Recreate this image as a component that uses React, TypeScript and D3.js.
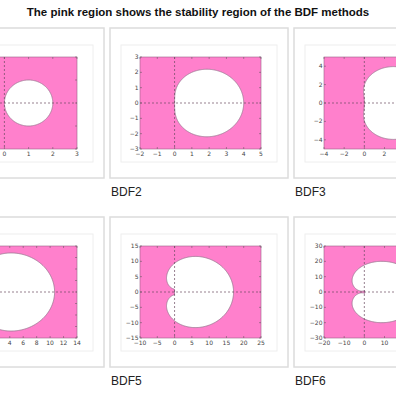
import React from "react";
import * as d3 from "d3";

// method names and the rho-polynomial coefficients of each BDF method (beta = 1)
const methods = ["BDF1", "BDF2", "BDF3", "BDF4", "BDF5", "BDF6"];
const rhoCoeffs = [
  [1, -1],
  [3 / 2, -2, 1 / 2],
  [11 / 6, -3, 3 / 2, -1 / 3],
  [25 / 12, -4, 3, -4 / 3, 1 / 4],
  [137 / 60, -5, 5, -10 / 3, 5 / 4, -1 / 5],
  [147 / 60, -6, 15 / 2, -20 / 3, 15 / 4, -6 / 5, 1 / 6],
];

const xDomains = [[-2, 3], [-2, 5], [-4, 8], [-4, 14], [-10, 25], [-20, 40]];
const yDomains = [[-2, 2], [-3, 3], [-5, 5], [-8, 8], [-15, 15], [-30, 30]];
const xTicks = [
  [-2, -1, 0, 1, 2, 3],
  [-2, -1, 0, 1, 2, 3, 4, 5],
  [-4, -2, 0, 2, 4, 6, 8],
  [-4, -2, 0, 2, 4, 6, 8, 10, 12, 14],
  [-10, -5, 0, 5, 10, 15, 20, 25],
  [-20, -10, 0, 10, 20, 30, 40],
];
const yTicks = [
  [-2, -1, 0, 1, 2],
  [-3, -2, -1, 0, 1, 2, 3],
  [-4, -2, 0, 2, 4],
  [-8, -6, -4, -2, 0, 2, 4, 6, 8],
  [-15, -10, -5, 0, 5, 10, 15],
  [-30, -20, -10, 0, 10, 20, 30],
];

const title = "The pink region shows the stability region of the BDF methods";

const PINK = "#ff80cc";
const FRAME_W = 178;
const FRAME_H = 150;
const AX_W = 121;
const AX_H = 92;

const fmt = (v: number) => (v < 0 ? "\u2212" + Math.abs(v) : String(v));

// boundary locus z(theta) = rho(e^{i theta}) / e^{i k theta}
function boundary(coeffs: number[]) {
  const thetas = d3.range(0, 721).map((i) => (i * 2 * Math.PI) / 720);
  return thetas.map((t) => {
    let re = 0;
    let im = 0;
    coeffs.forEach((a, m) => {
      re += a * Math.cos(-m * t);
      im += a * Math.sin(-m * t);
    });
    return [re, im] as [number, number];
  });
}

function Panel({ i }: { i: number }) {
  const col = i % 3;
  const row = Math.floor(i / 3);
  const fx = 110 + (col - 1) * 184;
  const fy = 28 + row * 189;
  const ax = fx + 30;
  const ay = fy + 29;

  const x = d3.scaleLinear().domain(xDomains[i]).range([0, AX_W]);
  const y = d3.scaleLinear().domain(yDomains[i]).range([AX_H, 0]);
  const line = d3
    .line<[number, number]>()
    .x((d) => x(d[0]))
    .y((d) => y(d[1]));
  const pts = boundary(rhoCoeffs[i]);
  const clipId = `clip-${i}`;

  return (
    <g>
      <rect x={fx} y={fy} width={FRAME_W} height={FRAME_H} fill="#fff" stroke="#dcdcdc" strokeWidth={1.5} />
      <rect x={fx + 11} y={fy + 17} width={156} height={117} fill="#fff" stroke="#eeeeee" strokeWidth={1} />
      <text x={fx + 1} y={fy + 168} fontSize={12} fill="#222" fontFamily="Liberation Sans, Arial, sans-serif">
        {methods[i]}
      </text>
      <g transform={`translate(${ax},${ay})`}>
        <clipPath id={clipId}>
          <rect width={AX_W} height={AX_H} />
        </clipPath>
        <rect width={AX_W} height={AX_H} fill={PINK} />
        <g clipPath={`url(#${clipId})`}>
          <path d={line(pts) + "Z"} fill="#fff" fillRule="evenodd" stroke="#a27a96" strokeWidth={0.9} />
          <line x1={x(0)} x2={x(0)} y1={0} y2={AX_H} stroke="#6a4a60" strokeWidth={0.7} strokeDasharray="2,2" />
          <line x1={0} x2={AX_W} y1={y(0)} y2={y(0)} stroke="#6a4a60" strokeWidth={0.7} strokeDasharray="2,2" />
        </g>
        <rect width={AX_W} height={AX_H} fill="none" stroke="#9b6088" strokeWidth={0.6} />
        {xTicks[i].map((t) => (
          <g key={"x" + t}>
            <line x1={x(t)} x2={x(t)} y1={AX_H} y2={AX_H - 2} stroke="#555" strokeWidth={0.5} />
            <line x1={x(t)} x2={x(t)} y1={0} y2={2} stroke="#555" strokeWidth={0.5} />
            <text x={x(t)} y={AX_H + 7} fontSize={6} fill="#444" textAnchor="middle" fontFamily="DejaVu Sans, sans-serif">
              {fmt(t)}
            </text>
          </g>
        ))}
        {yTicks[i].map((t) => (
          <g key={"y" + t}>
            <line x1={0} x2={2} y1={y(t)} y2={y(t)} stroke="#555" strokeWidth={0.5} />
            <line x1={AX_W} x2={AX_W - 2} y1={y(t)} y2={y(t)} stroke="#555" strokeWidth={0.5} />
            <text x={-1.5} y={y(t) + 2} fontSize={6} fill="#444" textAnchor="end" fontFamily="DejaVu Sans, sans-serif">
              {fmt(t)}
            </text>
          </g>
        ))}
      </g>
    </g>
  );
}

export default function App() {
  return (
    <svg width={396} height={396} style={{ position: "absolute", left: 0, top: 0, background: "#fff" }}>
      <rect width={396} height={396} fill="#fff" />
      <text x={198} y={16} textAnchor="middle" fontSize={11.5} fontWeight="bold" fill="#111" fontFamily="Liberation Sans, Arial, sans-serif">
        {title}
      </text>
      {methods.map((_, i) => (
        <Panel key={i} i={i} />
      ))}
    </svg>
  );
}
